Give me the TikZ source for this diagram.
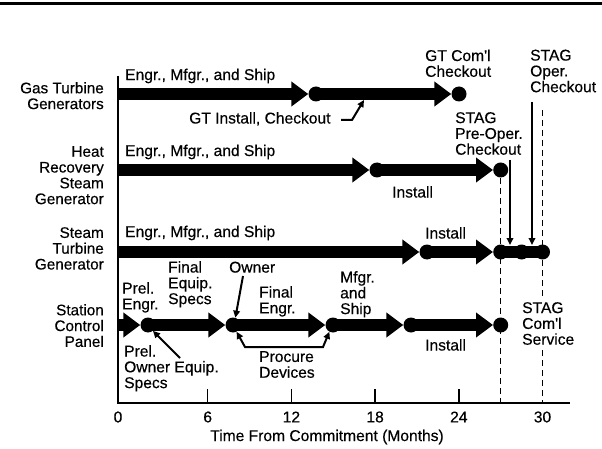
\documentclass[tikz,border=0pt]{standalone}
\usepackage{fontspec}
\setmainfont{Liberation Sans}[FakeBold=0.35]
\usetikzlibrary{arrows.meta}
\begin{document}
\begin{tikzpicture}[x=1pt,y=-1pt,
  lbl/.style={inner sep=0pt, align=left, anchor=north west, font=\fontsize{15.6}{15.8}\selectfont},
  rlbl/.style={inner sep=0pt, align=right, anchor=north east, font=\fontsize{15.3}{15.8}\selectfont},
  bar/.style={line width=12pt, -{Triangle[length=17pt,width=24pt]}},
  link/.style={line width=12pt},
  dot/.style={circle, fill=black, inner sep=0pt, minimum size=15pt},
  ptr/.style={line width=2pt, -{Triangle[length=7pt,width=6.5pt]}},
  ptrtwo/.style={line width=2pt, {Triangle[length=7pt,width=6.5pt]}-{Triangle[length=7pt,width=6.5pt]}},
  guide/.style={line width=1.4pt, dash pattern=on 6pt off 4pt},
  axisline/.style={line width=1.5pt},
  ticklbl/.style={inner sep=0pt, font=\fontsize{15.6}{15.8}\selectfont},
]
\useasboundingbox (0,0) rectangle (602,449);
% top rule
\draw[line width=3pt] (0,4) -- (602,4);

% guides (months 27 and 30)
\coordinate (d27t) at (500.7,178);
\coordinate (d27b) at (500.7,403);
\coordinate (d30t) at (542.5,110);
\coordinate (d30b) at (542.5,403);
\draw[guide] (d27t) -- (d27b);
\draw[guide] (d30t) -- (d30b);

% axes
\coordinate (ax0) at (118,76);
\coordinate (ax1) at (118,403);
\coordinate (ax2) at (570,403);
\draw[axisline] (ax0) -- (ax1) -- (ax2);
\foreach \m/\xx in {6/207.7,12/291.4,18/375.1,24/458.8}{
  \draw[axisline] (\xx,389) -- (\xx,403);
  \node[ticklbl] (tk\m) at (\xx,417) {\m};
}
\node[ticklbl] (tk0) at (118,417) {0};
\node[ticklbl] (tk30) at (542.5,417) {30};
\node[ticklbl] (xtitle) at (327,437) {Time From Commitment (Months)};

% row labels
\node[rlbl] (rGT) at (104,82) {Gas Turbine\\Generators};
\node[rlbl] (rHR) at (104,146) {Heat\\Recovery\\Steam\\Generator};
\node[rlbl] (rST) at (104,227) {Steam\\Turbine\\Generator};
\node[rlbl] (rSC) at (104,304) {Station\\Control\\Panel};

% Gas turbine row
\coordinate (g0) at (118,94);
\node[dot] (g1) at (316,94) {};
\node[dot] (g2) at (459,94) {};
\draw[bar] (g0) -- (g1.west);
\draw[bar] (g1.center) -- (g2.west);

% HRSG row
\coordinate (h0) at (118,170);
\node[dot] (h1) at (377,170) {};
\node[dot] (h2) at (500.7,170) {};
\draw[bar] (h0) -- (h1.west);
\draw[bar] (h1.center) -- (h2.west);

% Steam turbine row
\coordinate (s0) at (118,252);
\node[dot] (s1) at (427,252) {};
\node[dot] (s2) at (500.7,252) {};
\node[dot] (s3) at (521.6,252) {};
\node[dot] (s4) at (542.5,252) {};
\draw[bar] (s0) -- (s1.west);
\draw[bar] (s1.center) -- (s2.west);
\draw[link] (s2.center) -- (s4.center);

% Station control panel row
\coordinate (p0) at (118,325);
\node[dot] (p1) at (148,325) {};
\node[dot] (p2) at (233,325) {};
\node[dot] (p3) at (333,325) {};
\node[dot] (p4) at (411,325) {};
\node[dot] (p5) at (500.7,325) {};
\draw[bar] (p0) -- (p1.west);
\draw[bar] (p1.center) -- (p2.west);
\draw[bar] (p2.center) -- (p3.west);
\draw[bar] (p3.center) -- (p4.west);
\draw[bar] (p4.center) -- (p5.west);

% activity labels
\node[lbl] (e1) at (125,68.5) {Engr., Mfgr., and Ship};
\node[lbl] (e2) at (125,144.5) {Engr., Mfgr., and Ship};
\node[lbl] (e3) at (125,225.5) {Engr., Mfgr., and Ship};
\node[lbl] (gtc) at (425,49.5) {GT Com\textquotesingle l\\Checkout};
\node[lbl] (sop) at (530,49.5) {STAG\\Oper.\\Checkout};
\node[lbl] (spre) at (455,112) {STAG\\Pre-Oper.\\Checkout};
\node[lbl] (gti) at (189,112) {GT Install, Checkout};
\node[lbl] (in1) at (392,186) {Install};
\node[lbl] (in2) at (425,227) {Install};
\node[lbl] (in3) at (425,339) {Install};
\node[lbl] (pe) at (122,282) {Prel.\\Engr.};
\node[lbl] (fes) at (168,261) {Final\\Equip.\\Specs};
\node[lbl] (own) at (229,261.5) {Owner};
\node[lbl] (fe) at (259,286) {Final\\Engr.};
\node[lbl] (ms) at (340,271) {Mfgr.\\and\\Ship};
\node[lbl] (pos) at (124,345) {Prel.\\Owner Equip.\\Specs};
\node[lbl] (pd) at (259,351) {Procure\\Devices};
\node[lbl, fill=white, inner sep=3pt] (scs) at (519,299) {STAG\\Com\textquotesingle l\\Service};

% pointers
\coordinate (gia) at (341,120);
\coordinate (gib) at (352,120);
\coordinate (gic) at (364,100);
\draw[ptr] (gia) -- (gib) -- (gic);

\coordinate (v1a) at (510,160);
\coordinate (v1b) at (510,245);
\draw[ptr] (v1a) -- (v1b);
\coordinate (v2a) at (532,102);
\coordinate (v2b) at (532,245);
\draw[ptr] (v2a) -- (v2b);

\coordinate (owa) at (243,276);
\draw[ptr] (owa) -- (p2.72);

\coordinate (poa) at (180,358);
\draw[ptr] (poa) -- (p1.-50);

\coordinate (pdl) at (245,347);
\coordinate (pdr) at (323,347);
\draw[ptrtwo] (p2.-62) -- (pdl) -- (pdr) -- (p3.-118);
\end{tikzpicture}
\end{document}
